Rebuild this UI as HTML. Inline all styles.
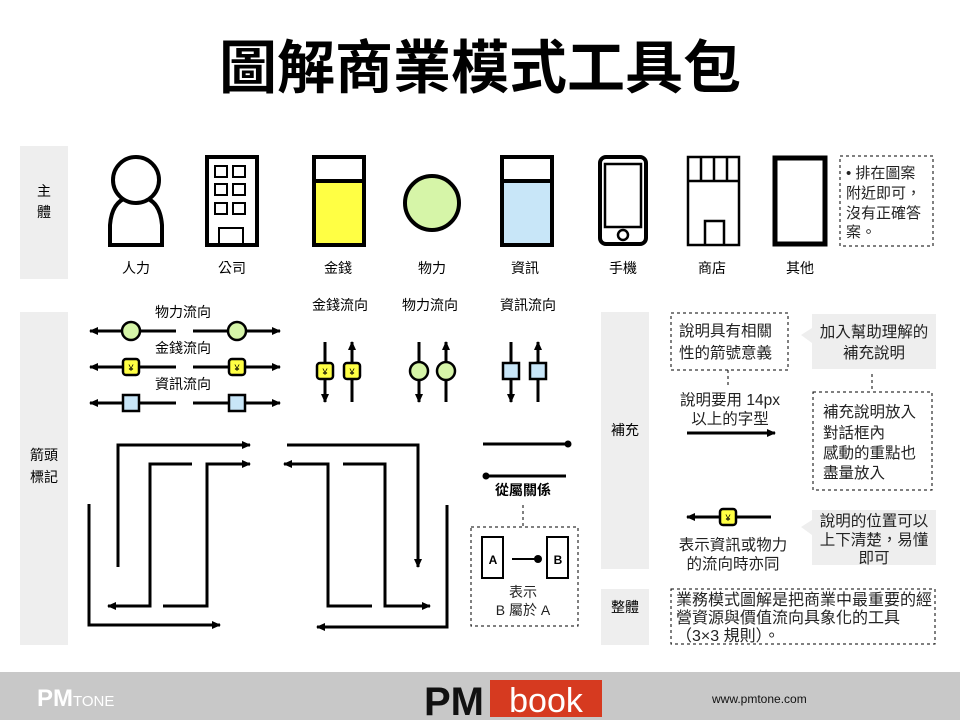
<!DOCTYPE html>
<html><head><meta charset="utf-8"><style>
html,body{margin:0;padding:0;background:#fff;}
svg{display:block;font-family:"Liberation Sans","Noto Sans CJK TC",sans-serif;}
</style></head><body>
<svg width="960" height="720" viewBox="0 0 960 720" xmlns="http://www.w3.org/2000/svg">
<defs>
<marker id="ah" markerWidth="10" markerHeight="10" refX="8" refY="5" orient="auto" markerUnits="userSpaceOnUse">
<path d="M0,1 L9,5 L0,9 Z" fill="#000"/></marker>
<g id="yen"><rect x="-8" y="-8" width="16" height="16" rx="3" fill="#ffff44" stroke="#000" stroke-width="2.5"/><text x="0" y="4" font-size="9" text-anchor="middle" fill="#000">¥</text></g>
<g id="gc"><circle r="9" fill="#d6f5a8" stroke="#000" stroke-width="2.5"/></g>
<g id="bs"><rect x="-8" y="-8" width="16" height="16" fill="#c8e6f8" stroke="#000" stroke-width="2.5"/></g>
</defs>

<text x="480" y="88" font-size="58" font-weight="bold" text-anchor="middle" fill="#000">圖解商業模式工具包</text>

<rect x="20" y="146" width="48" height="133" fill="#eeeeee"/>
<rect x="20" y="312" width="48" height="333" fill="#eeeeee"/>
<rect x="601" y="312" width="48" height="257" fill="#eeeeee"/>
<rect x="601" y="589" width="48" height="56" fill="#eeeeee"/>
<g font-size="14" text-anchor="middle" fill="#000">
<text x="44" y="196">主</text><text x="44" y="217">體</text>
<text x="44" y="460">箭頭</text><text x="44" y="482">標記</text>
<text x="625" y="435">補充</text>
<text x="625" y="612">整體</text>
</g>

<g fill="none" stroke="#000" stroke-width="4">
<path d="M110,245 L110,225 Q112,200 130,197 L142,197 Q160,200 162,225 L162,245 Z" fill="#fff"/>
<circle cx="136" cy="180" r="23" fill="#fff"/>
<rect x="207" y="157" width="50" height="88"/>
<g stroke-width="2"><rect x="215" y="166" width="12" height="11"/><rect x="233" y="166" width="12" height="11"/>
<rect x="215" y="184" width="12" height="11"/><rect x="233" y="184" width="12" height="11"/>
<rect x="215" y="203" width="12" height="11"/><rect x="233" y="203" width="12" height="11"/>
<rect x="219" y="228" width="24" height="17"/></g>
<rect x="314" y="157" width="50" height="88" fill="#ffff44"/>
<rect x="314" y="157" width="50" height="24" fill="#fff"/>
<circle cx="432" cy="203" r="27" fill="#d6f5a8"/>
<rect x="502" y="157" width="50" height="88" fill="#c8e6f8"/>
<rect x="502" y="157" width="50" height="24" fill="#fff"/>
<rect x="600" y="157" width="46" height="87" rx="6"/>
<rect x="605" y="164" width="36" height="63" stroke-width="2.5"/>
<circle cx="623" cy="235" r="5" stroke-width="2.5"/>
<rect x="688" y="157" width="51" height="88" stroke-width="2.5"/>
<path d="M688,181 H739 M701,157 V181 M714,157 V181 M727,157 V181 M705,245 V221 H724 V245" stroke-width="2.5"/>
<rect x="775" y="158" width="50" height="86" stroke-width="5"/>
</g>
<rect x="840" y="156" width="93" height="90" fill="none" stroke="#000" stroke-dasharray="3,3"/>
<g font-size="15" fill="#222"><text x="846" y="178">• 排在圖案</text><text x="846" y="198">附近即可，</text><text x="846" y="218">沒有正確答</text><text x="846" y="237">案。</text></g>
<g font-size="14" text-anchor="middle" fill="#000">
<text x="136" y="273">人力</text><text x="232" y="273">公司</text><text x="338" y="273">金錢</text><text x="432" y="273">物力</text>
<text x="525" y="273">資訊</text><text x="623" y="273">手機</text><text x="712" y="273">商店</text><text x="800" y="273">其他</text>
</g>

<g stroke="#000" stroke-width="3" fill="none" marker-end="url(#ah)">
<path d="M176,331 H90"/><path d="M193,331 H280"/>
<path d="M176,367 H90"/><path d="M193,367 H280"/>
<path d="M176,403 H90"/><path d="M193,403 H280"/>
<path d="M325,342 V402"/><path d="M352,402 V342"/>
<path d="M419,342 V402"/><path d="M446,402 V342"/>
<path d="M511,342 V402"/><path d="M538,402 V342"/>
</g>
<use href="#gc" x="131" y="331"/><use href="#gc" x="237" y="331"/>
<use href="#yen" x="131" y="367"/><use href="#yen" x="237" y="367"/>
<use href="#bs" x="131" y="403"/><use href="#bs" x="237" y="403"/>
<use href="#yen" x="325" y="371"/><use href="#yen" x="352" y="371"/>
<use href="#gc" x="419" y="371"/><use href="#gc" x="446" y="371"/>
<use href="#bs" x="511" y="371"/><use href="#bs" x="538" y="371"/>
<g font-size="14" text-anchor="middle" fill="#000">
<text x="183" y="317">物力流向</text><text x="183" y="353">金錢流向</text><text x="183" y="389">資訊流向</text>
<text x="340" y="310">金錢流向</text><text x="430" y="310">物力流向</text><text x="528" y="310">資訊流向</text>
</g>

<g stroke="#000" stroke-width="3" fill="none" marker-end="url(#ah)">
<path d="M118,567 V445 H250"/>
<path d="M192,464 H150 V606 H108"/>
<path d="M163,606 H207 V464 H250"/>
<path d="M89,504 V625 H220"/>
<path d="M287,445 H418 V567"/>
<path d="M372,606 H328 V464 H284"/>
<path d="M343,464 H385 V606 H430"/>
<path d="M447,505 V627 H317"/>
</g>

<g stroke="#000" stroke-width="3"><path d="M483,444 H567"/><path d="M487,476 H566"/></g>
<circle cx="568" cy="444" r="3.5"/><circle cx="486" cy="476" r="3.5"/>
<text x="523" y="495" font-size="14" font-weight="bold" text-anchor="middle">從屬關係</text>
<path d="M523,505 V527" stroke="#000" stroke-dasharray="3,3"/>
<rect x="471" y="527" width="107" height="99" fill="none" stroke="#000" stroke-dasharray="3,3"/>
<rect x="482" y="537" width="21" height="41" fill="#fff" stroke="#000" stroke-width="2"/>
<rect x="547" y="537" width="21" height="41" fill="#fff" stroke="#000" stroke-width="2"/>
<g font-size="12" font-weight="bold" text-anchor="middle"><text x="493" y="564">A</text><text x="558" y="564">B</text></g>
<path d="M512,559 H536" stroke="#000" stroke-width="2"/><circle cx="538" cy="559" r="4"/>
<g font-size="14" text-anchor="middle" fill="#222"><text x="523" y="597">表示</text><text x="523" y="615">B 屬於 A</text></g>

<rect x="671" y="313" width="117" height="57" fill="none" stroke="#000" stroke-dasharray="3,3"/>
<g font-size="15.5" fill="#222"><text x="679" y="336">說明具有相關</text><text x="679" y="358">性的箭號意義</text></g>
<path d="M728,370 V386" stroke="#000" stroke-dasharray="3,3"/>
<g font-size="15.5" text-anchor="middle" fill="#222"><text x="730" y="405">說明要用 14px</text><text x="730" y="424">以上的字型</text></g>
<path d="M687,433 H775" stroke="#000" stroke-width="3" marker-end="url(#ah)"/>

<path d="M812,314 H936 V369 H812 V343 L801,335 L812,328 Z" fill="#eeeeee"/>
<g font-size="15.5" text-anchor="middle" fill="#222"><text x="874" y="337">加入幫助理解的</text><text x="874" y="358">補充說明</text></g>
<path d="M872,374 V390" stroke="#000" stroke-dasharray="3,3"/>
<rect x="813" y="392" width="119" height="98" fill="none" stroke="#000" stroke-dasharray="3,3"/>
<g font-size="15.5" fill="#222"><text x="823" y="417">補充說明放入</text><text x="823" y="438">對話框內</text><text x="823" y="458">感動的重點也</text><text x="823" y="478">盡量放入</text></g>

<path d="M771,517 H687" stroke="#000" stroke-width="3" marker-end="url(#ah)"/>
<use href="#yen" x="728" y="517"/>
<g font-size="15.5" text-anchor="middle" fill="#222"><text x="733" y="550">表示資訊或物力</text><text x="733" y="569">的流向時亦同</text></g>
<path d="M812,510 H936 V565 H812 V535 L801,527 L812,520 Z" fill="#eeeeee"/>
<g font-size="15.5" text-anchor="middle" fill="#222"><text x="874" y="526">說明的位置可以</text><text x="874" y="545">上下清楚，易懂</text><text x="874" y="563">即可</text></g>

<rect x="671" y="589" width="264" height="55" fill="none" stroke="#000" stroke-dasharray="3,3"/>
<g font-size="16" fill="#222"><text x="676" y="605">業務模式圖解是把商業中最重要的經</text><text x="676" y="623">營資源與價值流向具象化的工具</text><text x="676" y="641">（3×3 規則）。</text></g>

<rect x="0" y="672" width="960" height="48" fill="#c8c8c8"/>
<text x="37" y="706" font-size="24" font-weight="bold" fill="#fff">PM<tspan font-size="15" font-weight="normal">TONE</tspan></text>
<text x="424" y="715" font-size="40" font-weight="bold" fill="#111">PM</text>
<rect x="490" y="680" width="112" height="37" fill="#d63a20"/>
<text x="546" y="712" font-size="34" text-anchor="middle" fill="#fff">book</text>
<text x="712" y="703" font-size="12" fill="#111">www.pmtone.com</text>
</svg>
</body></html>
